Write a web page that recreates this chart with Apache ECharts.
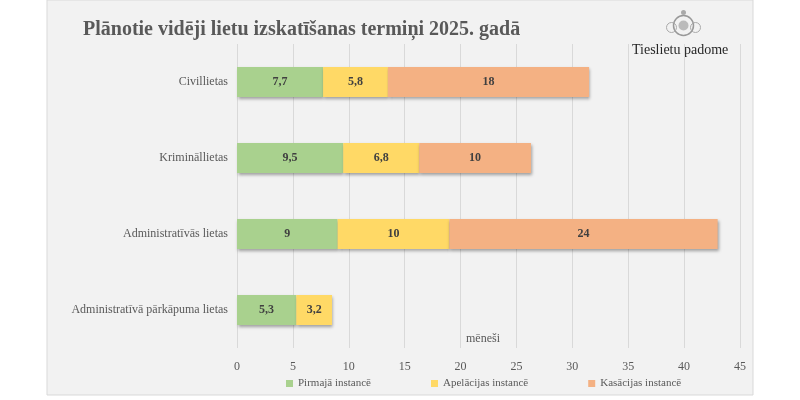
<!DOCTYPE html>
<html>
<head>
<meta charset="utf-8">
<script src="https://cdn.jsdelivr.net/npm/echarts@6/dist/echarts.min.js"></script>
<style>
  html, body { margin: 0; padding: 0; background: #fff; }
  #chart { width: 800px; height: 400px; }
</style>
</head>
<body>
<div id="chart"></div>
<script>
// lietu kategorijas (no augšas uz leju)
const categories = ['Civillietas', 'Krimināllietas', 'Administratīvās lietas', 'Administratīvā pārkāpuma lietas']
const pirmaja = [7.7, 9.5, 9, 5.3]
const apelacijas = [5.8, 6.8, 10, 3.2]
const kasacijas = [18, 10, 24, null]
const seriesNames = ['Pirmajā instancē', 'Apelācijas instancē', 'Kasācijas instancē']
const colors = ['#a9d18e', '#ffd966', '#f4b183']

const serif = '"Liberation Serif", "DejaVu Serif", serif'
const grey = '#595959'

const myChart = echarts.init(document.getElementById('chart'))

const barSeries = (name, data, color) => ({
  name,
  type: 'bar',
  stack: 'total',
  data,
  barWidth: 30,
  itemStyle: {
    color,
    shadowColor: 'rgba(0,0,0,0.35)',
    shadowBlur: 3,
    shadowOffsetX: 1,
    shadowOffsetY: 2
  },
  label: {
    show: true,
    position: 'inside',
    fontFamily: serif,
    fontWeight: 'bold',
    fontSize: 12,
    color: '#404040',
    formatter: p => String(p.value).replace('.', ',')
  }
})

const option = {
  backgroundColor: '#fff',
  animation: false,
  graphic: [
    {
      type: 'rect',
      z: -10,
      shape: { x: 47, y: 0, width: 706, height: 395 },
      style: { fill: '#f2f2f2', stroke: '#d9d9d9', lineWidth: 1 }
    },
    {
      type: 'text',
      left: 83,
      top: 20,
      style: {
        text: 'Plānotie vidēji lietu izskatīšanas termiņi 2025. gadā',
        fontFamily: serif,
        fontWeight: 'bold',
        fontSize: 20,
        fill: grey
      }
    },
    {
      type: 'text',
      left: 632,
      top: 43,
      style: {
        text: 'Tieslietu padome',
        fontFamily: serif,
        fontSize: 14,
        fill: '#262626'
      }
    },
    // x ass nosaukums
    {
      type: 'text',
      left: 466,
      top: 333,
      style: {
        text: 'mēneši',
        fontFamily: serif,
        fontSize: 12,
        fill: grey
      }
    },
    // vienkāršots ģerbonis
    {
      type: 'group',
      left: 664,
      top: 10,
      children: [
        { type: 'circle', shape: { cx: 17, cy: 16, r: 10 }, style: { fill: 'none', stroke: '#999', lineWidth: 1.5 } },
        { type: 'circle', shape: { cx: 17, cy: 16, r: 5 }, style: { fill: '#bbb' } },
        { type: 'circle', shape: { cx: 5, cy: 18, r: 5 }, style: { fill: 'none', stroke: '#aaa', lineWidth: 1 } },
        { type: 'circle', shape: { cx: 29, cy: 18, r: 5 }, style: { fill: 'none', stroke: '#aaa', lineWidth: 1 } },
        { type: 'circle', shape: { cx: 17, cy: 3, r: 2.5 }, style: { fill: '#aaa' } }
      ]
    }
  ],
  grid: { left: 237, right: 60, top: 44, bottom: 52 },
  legend: {
    bottom: 6,
    left: 281,
    itemWidth: 7,
    itemHeight: 7,
    itemGap: 60,
    icon: 'rect',
    textStyle: { fontFamily: serif, fontSize: 11, color: grey },
    data: seriesNames
  },
  xAxis: {
    type: 'value',
    min: 0,
    max: 45,
    interval: 5,
    axisLine: { show: false },
    axisTick: { show: false },
    axisLabel: { fontFamily: serif, fontSize: 12, color: grey, margin: 13 },
    splitLine: { lineStyle: { color: '#d9d9d9' } }
  },
  yAxis: {
    type: 'category',
    inverse: true,
    data: categories,
    axisLine: { show: false },
    axisTick: { show: false },
    axisLabel: { fontFamily: serif, fontSize: 12, color: grey, margin: 9 }
  },
  series: [
    barSeries(seriesNames[0], pirmaja, colors[0]),
    barSeries(seriesNames[1], apelacijas, colors[1]),
    barSeries(seriesNames[2], kasacijas, colors[2])
  ]
}

myChart.setOption(option)
</script>
</body>
</html>
